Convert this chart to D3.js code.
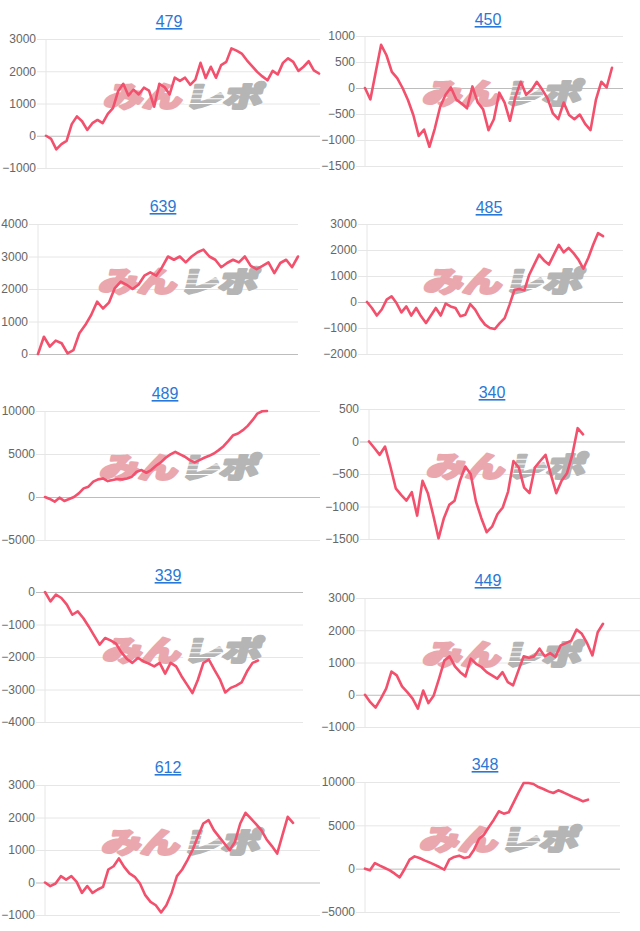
<!DOCTYPE html>
<html>
<head>
<meta charset="utf-8">
<script src="https://cdn.jsdelivr.net/npm/d3@7/dist/d3.min.js"></script>
<style>
  html, body { margin: 0; padding: 0; background: #fff; }
  svg { display: block; }
</style>
</head>
<body>
<svg id="chart" width="640" height="931"></svg>
<script>
// ---------------- DATA ----------------
const titles = ["479", "450", "639", "485", "489", "340", "339", "449", "612", "348"];

const series479 = [0,-100,-420,-260,-160,360,600,450,180,390,490,390,680,860,1380,1610,1250,1430,1280,1490,1400,900,1610,1510,1280,1800,1700,1800,1580,1740,2260,1790,2140,1800,2190,2290,2710,2640,2550,2340,2160,1980,1840,1720,2010,1900,2260,2400,2290,2010,2140,2310,2030,1930];
const series450 = [0,-220,310,830,630,310,190,0,-230,-520,-920,-800,-1130,-780,-360,-130,10,-220,-300,-390,30,-280,-410,-810,-600,-90,-280,-630,-170,120,-130,-40,120,-30,-200,-490,-600,-280,-520,-600,-510,-690,-810,-230,120,10,390];
const series639 = [0,530,230,410,330,20,120,640,890,1200,1610,1400,1580,2030,2230,2130,2000,2130,2410,2510,2410,2670,3000,2900,3000,2820,3000,3130,3210,3000,2900,2670,2800,2900,2820,3000,2710,2610,2710,2820,2490,2800,2900,2670,3000];
const series485 = [0,-230,-520,-290,90,220,-40,-400,-170,-520,-230,-550,-810,-520,-230,-520,-60,-170,-230,-550,-490,-80,-290,-620,-870,-1000,-1040,-810,-620,-100,470,500,450,1050,1440,1820,1600,1440,1820,2200,1910,2080,1880,1630,1280,1690,2200,2650,2530];
const series489 = [0,-230,-540,-80,-460,-230,0,420,1000,1200,1780,2050,2160,1850,1970,2090,2050,2160,2360,2940,3130,2820,3130,3630,4020,4560,4950,5260,4950,4680,4290,4020,4290,4560,4790,5060,5450,5910,6530,7190,7380,7770,8270,8930,9700,9970,10000];
const series340 = [0,-100,-205,-77,-385,-720,-820,-910,-780,-1140,-605,-795,-1130,-1490,-1180,-975,-910,-605,-385,-500,-925,-1180,-1395,-1310,-1120,-1015,-770,-300,-400,-710,-795,-400,-300,-205,-510,-795,-605,-490,-205,205,110];
const series339 = [0,-290,-80,-185,-390,-700,-595,-800,-1060,-1340,-1620,-1415,-1490,-1590,-1860,-2060,-2180,-2030,-2130,-2205,-2290,-2180,-2510,-2180,-2290,-2590,-2850,-3110,-2700,-2180,-2080,-2390,-2680,-3090,-2950,-2880,-2780,-2440,-2180,-2110];
const series449 = [0,-230,-400,-120,190,720,600,260,80,-120,-430,130,-260,-20,500,1060,1190,880,700,570,1120,960,860,700,600,500,700,390,290,750,1190,1150,1190,1430,1190,1290,1170,1530,1600,1680,2020,1890,1600,1220,1940,2200];
const series612 = [0,-110,-30,195,90,195,20,-320,-110,-320,-215,-135,400,500,740,480,280,175,-30,-390,-595,-700,-920,-700,-320,195,400,690,1015,1425,1815,1920,1610,1405,1200,995,1250,1815,2145,1970,1795,1610,1325,1120,890,1455,2020,1835];
const series348 = [0,-190,650,350,80,-190,-580,-1000,-40,1040,1420,1230,960,730,460,190,-120,1040,1350,1500,1230,1350,2190,3420,3920,4810,5650,6620,6350,6500,7650,8810,9880,9880,9770,9420,9190,8920,8730,9040,8810,8540,8270,8040,7770,7960];

const ticks479 = [3000, 2000, 1000, 0, -1000];
const ticks450 = [1000, 500, 0, -500, -1000, -1500];
const ticks639 = [4000, 3000, 2000, 1000, 0];
const ticks485 = [3000, 2000, 1000, 0, -1000, -2000];
const ticks489 = [10000, 5000, 0, -5000];
const ticks340 = [500, 0, -500, -1000, -1500];
const ticks339 = [0, -1000, -2000, -3000, -4000];
const ticks449 = [3000, 2000, 1000, 0, -1000];
const ticks612 = [3000, 2000, 1000, 0, -1000];
const ticks348 = [10000, 5000, 0, -5000];

const allSeries = [series479, series450, series639, series485, series489, series340, series339, series449, series612, series348];
const allTicks = [ticks479, ticks450, ticks639, ticks485, ticks489, ticks340, ticks339, ticks449, ticks612, ticks348];

// ---------------- LAYOUT ----------------
const layout = [
  {l: 46,  r: 320, t: 39,  b: 168, xe: 319, tx: 169, ty: 21,  wx: 185, wy: 95},
  {l: 365, r: 623, t: 36,  b: 166, xe: 612, tx: 488, ty: 19,  wx: 504, wy: 92},
  {l: 38,  r: 298, t: 224, b: 354, xe: 298, tx: 163, ty: 206, wx: 180, wy: 280},
  {l: 367, r: 623, t: 224, b: 354, xe: 603, tx: 489, ty: 207, wx: 505, wy: 280},
  {l: 45,  r: 320, t: 411, b: 540, xe: 267, tx: 165, ty: 393, wx: 181, wy: 466},
  {l: 369, r: 625, t: 409, b: 539, xe: 583, tx: 492, ty: 392, wx: 508, wy: 465},
  {l: 45,  r: 303, t: 592, b: 722, xe: 258, tx: 168, ty: 575, wx: 184, wy: 649},
  {l: 365, r: 640, t: 598, b: 727, xe: 603, tx: 488, ty: 580, wx: 504, wy: 653},
  {l: 45,  r: 320, t: 785, b: 915, xe: 293, tx: 168, ty: 767, wx: 183, wy: 841},
  {l: 365, r: 620, t: 782, b: 912, xe: 588, tx: 485, ty: 764, wx: 501, wy: 838}
];

const svg = d3.select("#chart");
const FONT = "Arial, 'Liberation Sans', sans-serif";
const CJK = "'Noto Sans CJK JP', sans-serif";

allSeries.forEach((data, i) => {
  const L = layout[i];
  const ticks = allTicks[i];
  const g = svg.append("g");

  const y = d3.scaleLinear().domain([d3.min(ticks), d3.max(ticks)]).range([L.b, L.t]);
  const x = d3.scaleLinear().domain([0, data.length - 1]).range([L.l, L.xe]);

  const axis = d3.axisLeft(y).tickValues(ticks).tickSize(L.l - L.r).tickPadding(0).tickFormat(d3.format("d"));
  const ag = g.append("g").attr("transform", `translate(${L.l},0)`).call(axis);
  ag.select(".domain").remove();
  ag.selectAll(".tick line")
    .attr("x1", -9)
    .attr("stroke", d => d === 0 ? "#bdbdbd" : "#e6e6e6")
    .attr("stroke-width", 1);
  ag.selectAll(".tick text")
    .attr("x", -10)
    .attr("fill", "#666")
    .attr("font-family", FONT)
    .attr("font-size", 12);
  ag.selectAll(".tick").filter(d => d === 0).raise();

  g.append("line")
    .attr("x1", L.l).attr("x2", L.l)
    .attr("y1", y(d3.max(ticks))).attr("y2", y(d3.min(ticks)))
    .attr("stroke", "#e6e6e6");

  // watermark
  const wm = g.append("g").attr("transform", `translate(${L.wx},${L.wy}) skewX(-14) scale(1.3,0.95)`);
  wm.append("text").text("みん")
    .attr("x", -1).attr("y", 0)
    .attr("text-anchor", "end").attr("dominant-baseline", "central")
    .attr("font-family", CJK).attr("font-weight", 900)
    .attr("font-size", 30).attr("fill", "#eaa8ae")
    .attr("stroke", "#eaa8ae").attr("stroke-width", 2.6).attr("stroke-linejoin", "round");
  wm.append("text").text("レポ")
    .attr("x", 1).attr("y", 0)
    .attr("text-anchor", "start").attr("dominant-baseline", "central")
    .attr("font-family", CJK).attr("font-weight", 900)
    .attr("font-size", 30).attr("fill", "#b5b5b5")
    .attr("stroke", "#b5b5b5").attr("stroke-width", 2.6).attr("stroke-linejoin", "round");
  [-6, -1, 4, 9].forEach(dy => {
    wm.append("line").attr("x1", 1).attr("x2", 30).attr("y1", dy).attr("y2", dy)
      .attr("stroke", "#fff").attr("stroke-width", 1.1);
  });

  const line = d3.line().x((d, k) => x(k)).y(d => y(d));
  g.append("path").datum(data)
    .attr("d", line)
    .attr("fill", "none")
    .attr("stroke", "#f2506c")
    .attr("stroke-width", 2.6)
    .attr("stroke-linejoin", "round")
    .attr("stroke-linecap", "round");

  g.append("text").text(titles[i])
    .attr("x", L.tx).attr("y", L.ty + 6)
    .attr("text-anchor", "middle")
    .attr("font-family", FONT).attr("font-size", 16)
    .attr("fill", "#2a78d6")
    .attr("text-decoration", "underline");
});
</script>
</body>
</html>
